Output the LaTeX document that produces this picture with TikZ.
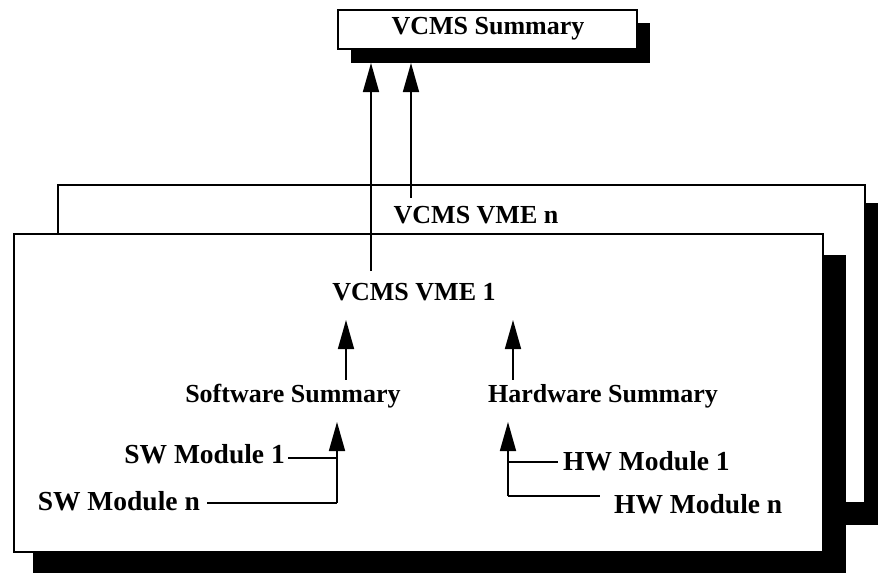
\documentclass[tikz,border=0pt]{standalone}
\usepackage{fontspec}
\setmainfont{Liberation Serif}
\usetikzlibrary{arrows.meta}
\begin{document}
\begin{tikzpicture}[x=1pt,y=-1pt,
  txt/.style={inner sep=0pt,font=\fontsize{26}{30}\selectfont\bfseries},
  mtxt/.style={inner sep=0pt,font=\fontsize{27.5}{31}\selectfont\bfseries},
  frame/.style={draw=black,line width=1.8pt,fill=white},
  shad/.style={fill=black},
  ln/.style={line width=1.6pt},
  arr/.style={line width=1.6pt,-{Triangle[length=29pt,width=16pt]}}]
\useasboundingbox (0,0) rectangle (878,573);
% back box (VME n)
\fill[shad] (78,203) rectangle (878,525);
\draw[frame] (58,185) rectangle (865,503);
% front box (VME 1)
\fill[shad] (33,255) rectangle (846,573);
\draw[frame] (14,234) rectangle (823,552);
% summary box
\fill[shad] (351,23) rectangle (650,63);
\draw[frame] (338,10) rectangle (637,49);
\node[txt] (sum) at (488,29) {VCMS Summary};
\node[txt] (vmen) at (476,215) {VCMS VME n};
\node[txt] (vme1) at (414,292) {VCMS VME 1};
\node[txt] (swsum) at (293,396) {Software Summary};
\node[txt] (hwsum) at (603,396) {Hardware Summary};
\node[mtxt,anchor=east] (sw1) at (285,454) {SW Module 1};
\node[mtxt,anchor=east] (swn) at (200,501) {SW Module n};
\node[mtxt,anchor=west] (hw1) at (563,461) {HW Module 1};
\node[mtxt,anchor=west] (hwn) at (614,504) {HW Module n};
% connectors to summary
\coordinate (t1) at (371,63);
\coordinate (t2) at (411,63);
\draw[arr] (vme1.north -| t1) ++(0,-12) -- (t1);
\draw[arr] (vmen.north -| t2) ++(0,-8) -- (t2);
% summaries to VME 1
\coordinate (s1) at (346,320);
\coordinate (s2) at (513,320);
\draw[arr] (swsum.north -| s1) ++(0,-4) -- (s1);
\draw[arr] (hwsum.north -| s2) ++(0,-4) -- (s2);
% SW modules
\coordinate (swj1) at (337,458);
\coordinate (swj2) at (337,503);
\coordinate (swtip) at (337,422);
\draw[ln] ([xshift=3pt,yshift=-4pt]sw1.east) -- (swj1);
\draw[ln] ([xshift=7pt,yshift=-2pt]swn.east) -- (swj2);
\draw[arr] (swj2) -- (swtip);
% HW modules
\coordinate (hwj1) at (508,462);
\coordinate (hwj2) at (508,496);
\coordinate (hwtip) at (508,422);
\draw[ln] (hwj1) -- ([xshift=-5pt,yshift=-1pt]hw1.west);
\draw[ln] (hwj2) -- ([xshift=-14pt,yshift=8pt]hwn.west);
\draw[arr] (hwj2) -- (hwtip);
\end{tikzpicture}
\end{document}
